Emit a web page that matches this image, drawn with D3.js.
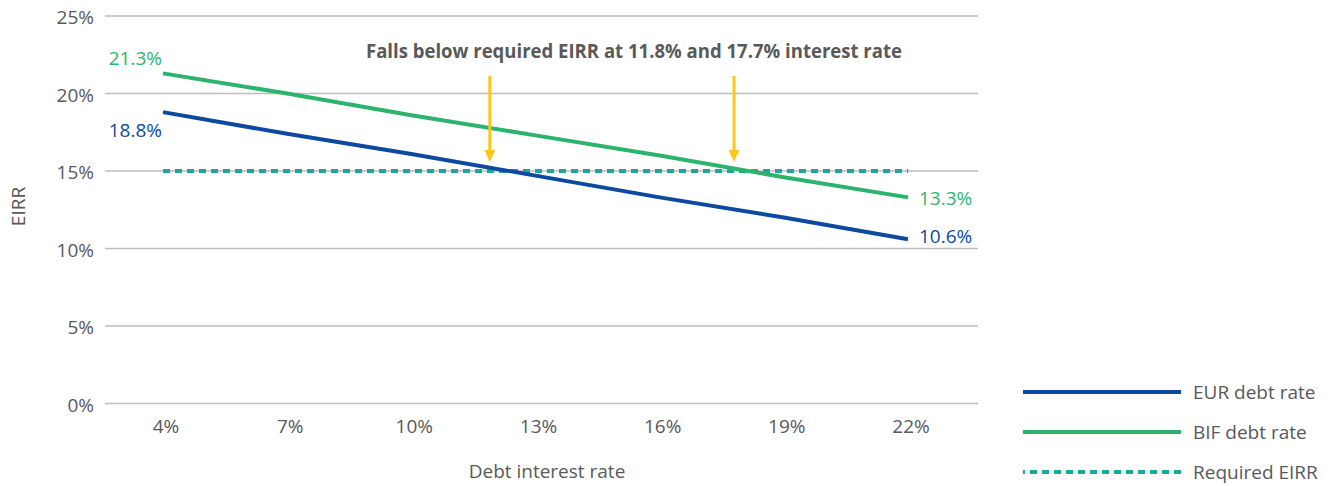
<!DOCTYPE html>
<html>
<head>
<meta charset="utf-8">
<script src="https://cdn.jsdelivr.net/npm/d3@7"></script>
<style>
  html, body { margin: 0; padding: 0; background: #fff; }
  svg { display: block; }
  text { font-family: "Open Sans", "Noto Sans", sans-serif; fill: #595959; }
</style>
</head>
<body>
<svg id="chart" width="1335" height="486"></svg>
<script>
// Debt interest rate (%) along the x axis
const rates = [4, 7, 10, 13, 16, 19, 22];
// Equity IRR (%) under each debt currency
const eurDebt = [18.8, 17.4, 16.1, 14.7, 13.3, 12.0, 10.6];
const bifDebt = [21.3, 20.0, 18.6, 17.3, 16.0, 14.6, 13.3];
const requiredEirr = [15, 15, 15, 15, 15, 15, 15];
// Axis ticks
const yTicks = [0, 5, 10, 15, 20, 25];
const xTicks = [4, 7, 10, 13, 16, 19, 22];
// Interest rates at which each series drops below the required EIRR
const thresholds = [11.8, 17.7];
const annotationText = "Falls below required EIRR at 11.8% and 17.7% interest rate";

const C = {
  eur: "#0b4a9f",
  bif: "#2db46c",
  req: "#19a99c",
  arrow: "#ffc61a",
  grid: "#bdbdbd",
  text: "#595959"
};

const series = [
  { name: "EUR debt rate", values: eurDebt, color: C.eur, dash: null },
  { name: "BIF debt rate", values: bifDebt, color: C.bif, dash: null },
  { name: "Required EIRR", values: requiredEirr, color: C.req, dash: "7,5" }
];

const svg = d3.select("#chart");
const x = d3.scaleLinear().domain([4, 22]).range([163, 908]);
const y = d3.scaleLinear().domain([0, 25]).range([403.5, 16]);
const gridLeft = 105, gridRight = 978;

// Horizontal gridlines and y tick labels
const yAxis = svg.append("g");
yAxis.selectAll("line").data(yTicks).join("line")
  .attr("x1", gridLeft).attr("x2", gridRight)
  .attr("y1", d => y(d)).attr("y2", d => y(d))
  .attr("stroke", C.grid).attr("stroke-width", 1.3);
yAxis.selectAll("text").data(yTicks).join("text")
  .attr("x", 94).attr("y", d => y(d) + 1)
  .attr("text-anchor", "end").attr("dominant-baseline", "central")
  .attr("font-size", 19)
  .text(d => d + "%");

// X tick labels
svg.append("g").selectAll("text").data(xTicks).join("text")
  .attr("x", d => x(d) + 3).attr("y", 433)
  .attr("text-anchor", "middle").attr("font-size", 19)
  .text(d => d + "%");

// Axis titles
svg.append("text")
  .attr("x", 547).attr("y", 478)
  .attr("text-anchor", "middle").attr("font-size", 19)
  .text("Debt interest rate");
svg.append("text")
  .attr("transform", "translate(25,206.5) rotate(-90)")
  .attr("text-anchor", "middle").attr("font-size", 19)
  .text("EIRR");

// Series lines
const line = d3.line().x((d, i) => x(rates[i])).y(d => y(d));
svg.append("g").selectAll("path").data(series.slice().reverse()).join("path")
  .attr("d", d => line(d.values))
  .attr("fill", "none")
  .attr("stroke", d => d.color)
  .attr("stroke-width", d => d.dash ? 3.8 : 4)
  .attr("stroke-dasharray", d => d.dash);

// End-point value labels
const last = rates.length - 1;
const valueLabels = [
  { v: bifDebt[0], at: rates[0], color: C.bif, anchor: "end", dx: -1, dy: -15 },
  { v: eurDebt[0], at: rates[0], color: C.eur, anchor: "end", dx: -1, dy: 18 },
  { v: bifDebt[last], at: rates[last], color: C.bif, anchor: "start", dx: 11, dy: 1 },
  { v: eurDebt[last], at: rates[last], color: C.eur, anchor: "start", dx: 11, dy: -3 }
];
svg.append("g").selectAll("text").data(valueLabels).join("text")
  .attr("x", d => x(d.at) + d.dx).attr("y", d => y(d.v) + d.dy)
  .attr("text-anchor", d => d.anchor).attr("dominant-baseline", "central")
  .attr("font-size", 19)
  .style("fill", d => d.color)
  .text(d => d.v.toFixed(1) + "%");

// Annotation title and arrows
svg.append("text")
  .attr("x", 634).attr("y", 58)
  .attr("text-anchor", "middle").attr("font-size", 20).attr("font-weight", 700)
  .attr("textLength", 536).attr("lengthAdjust", "spacingAndGlyphs")
  .text(annotationText);
const arrows = svg.append("g").selectAll("g").data(thresholds).join("g")
  .attr("transform", d => `translate(${x(d) + 4},0)`);
arrows.append("line")
  .attr("x1", 0).attr("x2", 0).attr("y1", 76).attr("y2", 151)
  .attr("stroke", C.arrow).attr("stroke-width", 3);
arrows.append("path")
  .attr("d", "M-5.5,150 L5.5,150 L0,162 Z")
  .attr("fill", C.arrow);

// Legend
const legend = svg.append("g").selectAll("g").data(series).join("g")
  .attr("transform", (d, i) => `translate(0,${392 + i * 40})`);
legend.append("line")
  .attr("x1", 1023).attr("x2", 1181).attr("y1", 0).attr("y2", 0)
  .attr("stroke", d => d.color).attr("stroke-width", 4)
  .attr("stroke-dasharray", d => d.dash)
  .attr("stroke-dashoffset", d => d.dash ? 5 : null);
legend.append("text")
  .attr("x", 1193).attr("y", 0)
  .attr("dominant-baseline", "central").attr("font-size", 19)
  .text(d => d.name);
</script>
</body>
</html>
